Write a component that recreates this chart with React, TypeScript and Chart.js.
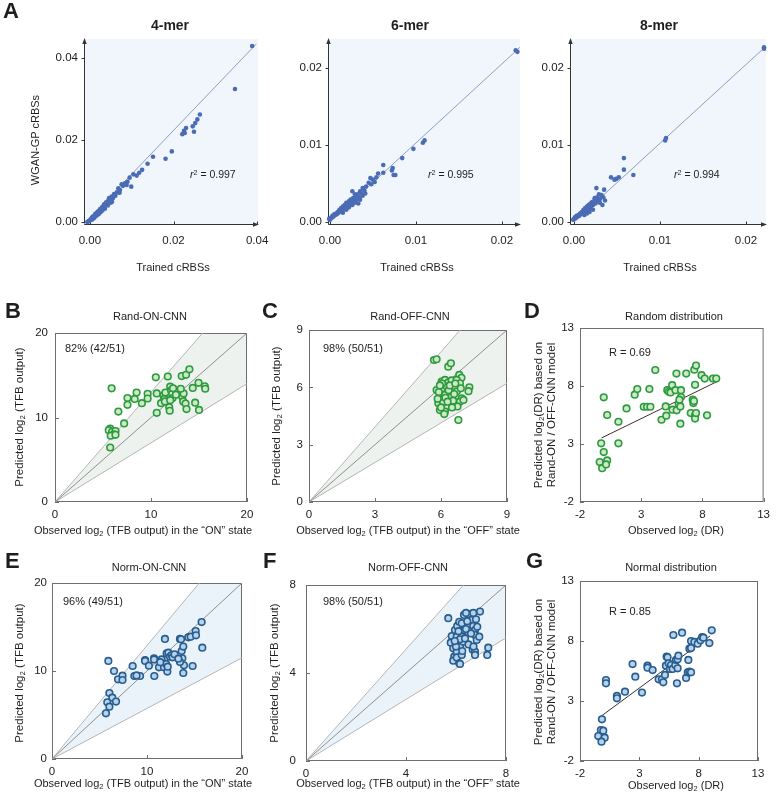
import React, { useEffect, useRef } from "react";
import { Chart, registerables } from "chart.js";
Chart.register(...registerables);

const W = 776;
const H = 799;
const FONT = '"Liberation Sans", Arial, Helvetica, sans-serif';

// ---------------- data ----------------
const mer4Points: [number, number][] = [
  [0.0388,0.0429],[0.0347,0.0324],[0.0263,0.0262],[0.0257,0.0250],[0.0252,0.0241],[0.0246,0.0233],[0.0249,0.0220],[0.0230,0.0229],[0.0225,0.0222],[0.0221,0.0214],[0.0227,0.0217],[0.0196,0.0172],[0.0181,0.0154],[0.0151,0.0159],[0.0138,0.0142],[0.0125,0.0127],[0.0118,0.0120],[0.0112,0.0113],[0.0104,0.0116],[0.0099,0.0086],[0.0095,0.0108],[0.0090,0.0098],[0.0084,0.0094],[0.0079,0.0088],[0.0076,0.0092],[0.0072,0.0078],[0.0068,0.0082],[0.0065,0.0072],[0.0061,0.0064],[0.0058,0.0068],[0.0055,0.0058],[0.0052,0.0062],[0.0049,0.0055],[0.0047,0.0050],[0.0044,0.0052],[0.0042,0.0046],[0.0040,0.0044],[0.0037,0.0041],[0.0035,0.0038],[0.0033,0.0040],[0.0031,0.0034],[0.0029,0.0036],[0.0027,0.0030],[0.0025,0.0028],[0.0024,0.0031],[0.0022,0.0024],[0.0020,0.0026],[0.0018,0.0021],[0.0017,0.0023],[0.0015,0.0018],[0.0013,0.0020],[0.0012,0.0015],[0.0010,0.0013],[0.0008,0.0014],[0.0007,0.0010],[0.0005,0.0011],[0.0004,0.0008],[0.0002,0.0006],[0.0001,0.0004],[-0.0002,0.0003],[-0.0004,0.0001],[-0.0006,0.0000],[0.0053,0.0049],[0.0046,0.0058],[0.0039,0.0048],[0.0071,0.0071],[0.0088,0.0090],[0.0036,0.0032],[0.0030,0.0028],[0.0026,0.0024],[0.0021,0.0019],[0.0016,0.0015],[0.0011,0.0010],[0.0006,0.0006],[0.0043,0.0040],[0.0050,0.0047],[0.0034,0.0043],[0.0028,0.0033],[0.0019,0.0022],[0.0009,0.0011],
];
const mer6Points: [number, number][] = [
  [0.0216,0.0223],[0.0218,0.0221],[0.0110,0.0106],[0.0108,0.0103],[0.0097,0.0095],[0.0084,0.0083],[0.0073,0.0070],[0.0072,0.0067],[0.0074,0.0061],[0.0076,0.0061],[0.0062,0.0074],[0.0062,0.0064],[0.0056,0.0063],[0.0054,0.0058],[0.0052,0.0052],[0.0050,0.0055],[0.0047,0.0057],[0.0048,0.0049],[0.0045,0.0051],[0.0042,0.0046],[0.0040,0.0041],[0.0038,0.0044],[0.0036,0.0037],[0.0035,0.0040],[0.0034,0.0032],[0.0032,0.0036],[0.0031,0.0029],[0.0030,0.0033],[0.0029,0.0036],[0.0028,0.0027],[0.0027,0.0031],[0.0026,0.0040],[0.0025,0.0025],[0.0024,0.0029],[0.0023,0.0022],[0.0022,0.0027],[0.0021,0.0024],[0.0020,0.0020],[0.0019,0.0025],[0.0018,0.0019],[0.0017,0.0022],[0.0016,0.0017],[0.0015,0.0020],[0.0014,0.0015],[0.0013,0.0018],[0.0012,0.0014],[0.0011,0.0016],[0.0010,0.0012],[0.0009,0.0013],[0.0008,0.0010],[0.0007,0.0011],[0.0006,0.0009],[0.0005,0.0010],[0.0004,0.0007],[0.0003,0.0008],[0.0002,0.0006],[0.0001,0.0005],[0.0000,0.0003],[-0.0001,0.0004],[0.0033,0.0024],[0.0038,0.0034],[0.0041,0.0037],[0.0029,0.0025],[0.0026,0.0022],[0.0019,0.0016],[0.0015,0.0012],[0.0022,0.0019],[0.0035,0.0029],
];
const mer8Points: [number, number][] = [
  [0.0221,0.0227],[0.0221,0.0225],[0.0107,0.0109],[0.0106,0.0106],[0.0058,0.0083],[0.0058,0.0068],[0.0069,0.0061],[0.0052,0.0058],[0.0049,0.0056],[0.0047,0.0055],[0.0043,0.0058],[0.0035,0.0042],[0.0026,0.0044],[0.0034,0.0032],[0.0032,0.0035],[0.0030,0.0030],[0.0029,0.0036],[0.0028,0.0027],[0.0027,0.0032],[0.0026,0.0029],[0.0025,0.0024],[0.0024,0.0031],[0.0023,0.0027],[0.0022,0.0022],[0.0021,0.0026],[0.0020,0.0020],[0.0019,0.0024],[0.0018,0.0018],[0.0017,0.0022],[0.0016,0.0017],[0.0015,0.0020],[0.0014,0.0015],[0.0013,0.0018],[0.0012,0.0014],[0.0011,0.0016],[0.0010,0.0012],[0.0009,0.0013],[0.0008,0.0010],[0.0007,0.0011],[0.0006,0.0008],[0.0005,0.0009],[0.0004,0.0007],[0.0003,0.0008],[0.0002,0.0005],[0.0001,0.0006],[0.0000,0.0004],[-0.0001,0.0003],[0.0030,0.0025],[0.0033,0.0022],[0.0022,0.0016],[0.0018,0.0013],[0.0015,0.0011],[0.0036,0.0028],[0.0012,0.0009],
];
const mer4Fit: [number, number][] = [[-0.0014, -0.0005], [0.0398, 0.0434]];
const mer6Fit: [number, number][] = [[0, 0], [0.0221, 0.0227]];
const mer8Fit: [number, number][] = [[0, 0], [0.0222, 0.0227]];

const randOnPoints: [number, number][] = [
  [5.9,13.45],[5.75,8.7],[5.6,8.5],[5.95,8.3],[6.3,8.4],[6.15,8.0],[5.8,7.85],[6.3,7.95],[5.75,6.45],[6.6,10.7],[7.2,9.3],[7.55,12.3],[7.55,11.5],[8.3,12.2],[8.5,12.95],[9.05,11.7],[9.65,12.8],[9.65,12.25],[10.5,14.75],[10.6,12.85],[10.6,10.55],[11.05,11.7],[11.3,12.6],[11.4,12.2],[11.5,12.95],[11.45,11.9],[11.75,14.85],[12.0,13.65],[11.9,11.2],[11.95,10.8],[12.1,13.2],[12.2,12.8],[12.25,12.3],[12.3,13.45],[12.0,12.05],[13.2,14.9],[13.65,15.05],[13.25,12.45],[13.4,12.85],[13.35,11.9],[13.6,11.65],[13.7,11.0],[14.0,15.7],[14.35,13.5],[14.6,11.75],[14.95,14.1],[15.0,10.9],[15.6,13.7],[15.65,13.4],[12.6,12.7],[13.1,13.4],
];
const randOffPoints: [number, number][] = [
  [5.68,7.43],[5.8,7.47],[6.33,7.08],[6.45,7.26],[6.83,6.65],[6.93,6.5],[7.29,6.0],[7.25,5.8],[6.79,4.29],
  [6.03,6.3],[6.18,6.39],[6.33,6.25],[6.48,6.36],[6.71,6.39],[6.08,5.95],[5.8,5.86],[6.26,6.04],[6.64,6.04],[6.86,6.21],[5.95,5.51],[6.18,5.6],[6.48,5.51],[6.71,5.78],[6.94,5.43],[6.03,5.34],[6.41,5.17],[6.71,5.17],[5.88,5.17],[6.26,5.0],[6.56,5.0],[5.95,4.81],[6.18,4.73],[6.86,5.25],[7.02,5.34],
  [5.9,5.75],[6.1,5.2],[6.0,4.95],[6.2,5.45],[6.35,5.85],[6.55,5.3],[6.6,5.65],[6.4,6.1],[6.75,5.0],[6.9,5.95],[5.85,5.4],[6.15,4.6],[6.05,6.2],[6.5,4.95],[6.3,5.25],[6.65,6.2],[5.95,6.1],
];
const randDrPoints: [number, number][] = [
  [-0.06,7.02],[0.22,5.5],[-0.27,3.06],[-0.06,2.3],[-0.39,1.44],[0.22,1.58],[-0.19,0.92],[0.13,1.24],[1.14,4.92],[1.14,3.06],[1.8,6.07],[2.47,7.25],[2.68,7.74],[3.21,6.21],[3.48,6.21],[3.67,7.74],[3.75,6.21],[4.15,9.38],[4.66,5.09],[5.0,6.24],[5.05,5.44],[5.13,7.64],[5.26,7.5],[5.4,7.45],[5.53,8.07],[5.56,5.96],[5.8,7.64],[5.9,5.9],[5.88,9.07],[6.06,6.47],[6.2,6.24],[6.25,7.05],[6.25,7.64],[6.2,4.75],[6.68,9.07],[7.21,6.82],[7.26,6.53],[7.34,9.41],[7.48,9.76],[7.4,8.1],[7.05,5.67],[7.4,5.47],[7.4,5.19],[7.48,5.67],[7.93,8.93],[8.19,8.64],[8.38,5.47],[8.86,8.64],[9.13,8.64],[6.12,6.82],[7.31,6.7],
];
const randDrFit: [number, number][] = [[-0.24, 3.52], [9.12, 8.34]];

const normOnPoints: [number, number][] = [
  [5.93,11.14],[6.53,10.0],[6.04,7.5],[6.35,6.97],[6.74,6.52],[5.82,6.45],[6.04,5.95],[5.68,5.19],[6.95,9.05],[7.42,9.47],[7.42,8.98],[8.49,10.57],[8.67,9.43],[9.27,9.43],[9.8,11.25],[9.8,11.14],[10.74,11.44],[10.74,11.32],[10.77,9.43],[11.26,10.42],[11.54,11.32],[11.79,10.42],[11.89,13.64],[12.0,10.8],[12.07,12.0],[12.14,9.93],[12.18,10.49],[12.25,12.08],[12.42,11.63],[12.6,11.82],[12.7,11.55],[13.47,13.64],[13.58,13.6],[13.65,12.27],[13.72,11.44],[13.82,12.77],[13.82,9.77],[13.89,10.64],[13.47,11.02],[14.35,13.83],[14.6,13.9],[14.8,10.57],[15.12,14.54],[15.16,14.05],[15.75,15.56],[15.82,12.65],[11.4,11.0],[12.9,11.9],[13.3,11.4],[8.9,9.5],[10.2,10.6],
];
const normOffPoints: [number, number][] = [
  [5.69,6.49],[5.83,5.68],[5.79,5.38],[5.89,5.12],[5.93,4.74],[5.89,4.56],[6.03,4.97],[6.03,4.71],[6.13,4.44],[6.16,4.41],[6.23,4.82],[6.16,5.23],[6.03,5.65],[5.96,5.95],[6.05,6.14],[6.13,6.33],[6.23,6.26],[6.32,6.64],[6.49,6.68],[6.49,5.83],[6.32,5.95],[6.23,5.65],[6.29,5.42],[6.16,5.53],[6.36,5.57],[6.56,5.95],[6.63,6.41],[6.69,6.14],[6.76,5.95],[6.76,5.73],[6.83,5.5],[6.8,6.44],[6.96,6.79],[6.93,5.65],[6.67,5.06],[6.76,4.97],[6.76,4.82],[7.29,5.15],[7.25,4.82],[6.4,6.73],[6.69,6.73],
  [6.1,5.9],[6.4,6.0],[6.5,5.3],[6.0,5.2],[6.25,5.0],[6.6,5.8],[6.85,6.1],[6.45,6.35],[5.95,5.45],[6.7,5.2],
];
const normDrPoints: [number, number][] = [
  [-0.15,1.47],[-0.24,0.58],[-0.04,0.53],[-0.46,0.08],[0.08,-0.06],[-0.19,-0.39],[0.19,4.75],[0.19,4.47],[1.11,3.42],[1.11,3.22],[1.79,3.78],[2.43,6.08],[2.66,5.03],[3.22,3.7],[3.69,5.94],[3.69,5.78],[4.12,5.58],[4.63,4.81],[4.91,4.81],[5.02,4.56],[5.16,5.17],[5.24,5.94],[5.3,6.69],[5.38,6.64],[5.47,6.14],[5.58,5.67],[5.67,6.0],[5.81,5.67],[5.87,8.5],[6.03,6.0],[6.09,6.42],[6.17,4.47],[6.23,6.47],[6.29,6.78],[6.23,5.72],[6.6,8.69],[6.94,4.92],[7.13,6.42],[7.08,5.39],[7.22,5.44],[7.36,5.39],[7.22,7.36],[7.36,7.42],[7.36,8.0],[7.64,7.92],[7.92,7.78],[8.15,8.06],[8.29,8.33],[8.4,8.28],[8.9,7.83],[9.1,8.89],
];
const normDrFit: [number, number][] = [[-0.31, 1.67], [8.96, 8.42]];

const ticksMer4 = [0, 0.02, 0.04];
const ticksMer68 = [0, 0.01, 0.02];
const ticksOn = [0, 10, 20];
const ticksRandOff = [0, 3, 6, 9];
const ticksNormOff = [0, 4, 8];
const ticksDr = [-2, 3, 8, 13];

// ---------------- panel specs ----------------
type Line = { pts: [number, number][]; color: string; width: number };
type Spec = {
  box: [number, number, number, number];
  xr: [number, number];
  yr: [number, number];
  xt: number[];
  yt: number[];
  fmt: (v: number) => string;
  xPad: number;
  yPad: number;
  points: [number, number][];
  radius: number;
  fill: string;
  stroke: string;
  bw: number;
  lines: Line[];
  band?: { lo: number; hi: number; color: string };
  frame: "box" | "arrows";
  bg?: string;
};

const f2 = (v: number) => v.toFixed(2);
const f0 = (v: number) => String(v);

const GREEN = { radius: 3.3, fill: "#cdeac8", stroke: "#2e9a3e", bw: 1.6 };
const BLUE = { radius: 3.3, fill: "#b7d3ec", stroke: "#285d8f", bw: 1.6 };
const MER = { radius: 2.3, fill: "#4a6cb5", stroke: "#4a6cb5", bw: 0 };
const FITA = "#8c9fc4";
const GUIDE = "#b5b5b5";
const DIAG = "#8f8f8f";

function guideLines(max: number, lo: number, hi: number): Line[] {
  return [
    { pts: [[0, 0], [max, max]], color: DIAG, width: 1 },
    { pts: [[0, 0], [max / hi, max]], color: GUIDE, width: 1 },
    { pts: [[0, 0], [max, max * lo]], color: GUIDE, width: 1 },
  ];
}

const specs: Spec[] = [
  { box: [84, 39, 258, 224], xr: [-0.0014, 0.0402], yr: [-0.0005, 0.0446], xt: ticksMer4, yt: ticksMer4, fmt: f2, xPad: 10, yPad: 6,
    points: mer4Points, ...MER, lines: [{ pts: mer4Fit, color: FITA, width: 1 }], frame: "arrows", bg: "#f0f6fc" },
  { box: [328, 39, 520, 224], xr: [-0.00023, 0.0221], yr: [-0.00026, 0.02377], xt: ticksMer68, yt: ticksMer68, fmt: f2, xPad: 10, yPad: 6,
    points: mer6Points, ...MER, lines: [{ pts: mer6Fit, color: FITA, width: 1 }], frame: "arrows", bg: "#f0f6fc" },
  { box: [570, 39, 766, 224], xr: [-0.00047, 0.02233], yr: [-0.00026, 0.02377], xt: ticksMer68, yt: ticksMer68, fmt: f2, xPad: 10, yPad: 6,
    points: mer8Points, ...MER, lines: [{ pts: mer8Fit, color: FITA, width: 1 }], frame: "arrows", bg: "#f0f6fc" },
  { box: [55, 333, 247, 502], xr: [0, 20], yr: [0, 20], xt: ticksOn, yt: ticksOn, fmt: f0, xPad: 6, yPad: 7,
    points: randOnPoints, ...GREEN, lines: guideLines(20, 0.7, 1.3), band: { lo: 0.7, hi: 1.3, color: "#edf2ee" }, frame: "box" },
  { box: [309, 330, 507, 502], xr: [0, 9], yr: [0, 9], xt: ticksRandOff, yt: ticksRandOff, fmt: f0, xPad: 6, yPad: 6,
    points: randOffPoints, ...GREEN, lines: guideLines(9, 0.69, 1.31), band: { lo: 0.69, hi: 1.31, color: "#edf2ee" }, frame: "box" },
  { box: [580, 328, 768, 502], xr: [-2, 13], yr: [-2, 13], xt: ticksDr, yt: ticksDr, fmt: f0, xPad: 6, yPad: 6,
    points: randDrPoints, ...GREEN, lines: [{ pts: randDrFit, color: "#4a2b2b", width: 1 }], frame: "box" },
  { box: [52, 583, 242, 759], xr: [0, 20], yr: [0, 20], xt: ticksOn, yt: ticksOn, fmt: f0, xPad: 6, yPad: 5,
    points: normOnPoints, ...BLUE, lines: guideLines(20, 0.575, 1.29), band: { lo: 0.575, hi: 1.29, color: "#eaf3fa" }, frame: "box" },
  { box: [306, 585, 506, 761], xr: [0, 8], yr: [0, 8], xt: ticksNormOff, yt: ticksNormOff, fmt: f0, xPad: 6, yPad: 10,
    points: normOffPoints, ...BLUE, lines: guideLines(8, 0.7, 1.27), band: { lo: 0.7, hi: 1.27, color: "#eaf3fa" }, frame: "box" },
  { box: [580, 581, 758, 761], xr: [-2, 13], yr: [-2, 13], xt: ticksDr, yt: ticksDr, fmt: f0, xPad: 6, yPad: 6,
    points: normDrPoints, ...BLUE, lines: [{ pts: normDrFit, color: "#333333", width: 1 }], frame: "box" },
];

const YW = 40;
const XH = 25;

function framePlugin(spec: Spec) {
  return {
    id: "frame",
    beforeDatasetsDraw(chart: any) {
      const { ctx, chartArea: a, scales } = chart;
      const sx = scales.x, sy = scales.y;
      ctx.save();
      if (spec.bg) {
        ctx.fillStyle = spec.bg;
        ctx.fillRect(a.left, a.top, a.right - a.left, a.bottom - a.top);
      }
      if (spec.band) {
        const m = spec.xr[1];
        const { lo, hi } = spec.band;
        const poly: [number, number][] = [[0, 0], [m, m * lo], [m, m], [m / hi, m]];
        ctx.fillStyle = spec.band.color;
        ctx.beginPath();
        poly.forEach(([x, y], i) => {
          const px = sx.getPixelForValue(x), py = sy.getPixelForValue(y);
          if (i === 0) ctx.moveTo(px, py); else ctx.lineTo(px, py);
        });
        ctx.closePath();
        ctx.fill();
      }
      ctx.strokeStyle = spec.frame === "box" ? "#6e6e6e" : "#333";
      ctx.lineWidth = 1;
      if (spec.frame === "box") {
        ctx.strokeRect(a.left + 0.5, a.top + 0.5, a.right - a.left - 1, a.bottom - a.top - 1);
        ctx.beginPath();
        spec.xt.forEach((v) => {
          const px = Math.round(sx.getPixelForValue(v)) + 0.5;
          ctx.moveTo(px, a.bottom); ctx.lineTo(px, a.bottom - 4);
        });
        spec.yt.forEach((v) => {
          const py = Math.round(sy.getPixelForValue(v)) + 0.5;
          ctx.moveTo(a.left, py); ctx.lineTo(a.left + 4, py);
        });
        ctx.stroke();
      } else {
        const L = a.left + 0.5, B = a.bottom + 0.5;
        ctx.beginPath();
        ctx.moveTo(L, B); ctx.lineTo(L, a.top + 2);
        ctx.moveTo(L, B); ctx.lineTo(a.right - 2, B);
        spec.xt.forEach((v) => {
          const px = Math.round(sx.getPixelForValue(v)) + 0.5;
          ctx.moveTo(px, B); ctx.lineTo(px, B - 3);
        });
        spec.yt.forEach((v) => {
          const py = Math.round(sy.getPixelForValue(v)) + 0.5;
          ctx.moveTo(L, py); ctx.lineTo(L - 3, py);
        });
        ctx.stroke();
        ctx.fillStyle = "#333";
        ctx.beginPath();
        ctx.moveTo(L, a.top - 1); ctx.lineTo(L - 2.2, a.top + 5); ctx.lineTo(L + 2.2, a.top + 5); ctx.closePath();
        ctx.moveTo(a.right + 1, B); ctx.lineTo(a.right - 5, B - 2.2); ctx.lineTo(a.right - 5, B + 2.2); ctx.closePath();
        ctx.fill();
      }
      ctx.restore();
    },
  };
}

function PanelChart({ spec }: { spec: Spec }) {
  const ref = useRef<HTMLCanvasElement | null>(null);
  useEffect(() => {
    if (!ref.current) return;
    const [l, t, r, b] = spec.box;
    const tickFont = { family: FONT, size: 11.5 };
    const chart = new Chart(ref.current, {
      type: "scatter",
      data: {
        datasets: [
          {
            data: spec.points.map(([x, y]) => ({ x, y })),
            pointRadius: spec.radius,
            pointBackgroundColor: spec.fill,
            pointBorderColor: spec.stroke,
            pointBorderWidth: spec.bw,
            clip: false as any,
            order: 0,
          } as any,
          ...spec.lines.map((ln) => ({
            data: ln.pts.map(([x, y]) => ({ x, y })),
            showLine: true,
            pointRadius: 0,
            borderColor: ln.color,
            borderWidth: ln.width,
            fill: false,
            order: 1,
          })),
        ],
      },
      options: {
        animation: false,
        responsive: false,
        devicePixelRatio: 1,
        events: [],
        layout: { padding: { left: l - YW, top: t, right: W - r, bottom: H - b - XH } },
        plugins: { legend: { display: false }, tooltip: { enabled: false }, title: { display: false } },
        scales: {
          x: {
            type: "linear",
            min: spec.xr[0],
            max: spec.xr[1],
            afterBuildTicks: (s: any) => { s.ticks = spec.xt.map((v) => ({ value: v })); },
            afterFit: (s: any) => { s.height = XH; },
            ticks: { callback: (v: any) => spec.fmt(Number(v)), font: tickFont, color: "#222", padding: spec.xPad, maxRotation: 0, autoSkip: false },
            grid: { display: false, drawTicks: false },
            border: { display: false },
          },
          y: {
            type: "linear",
            min: spec.yr[0],
            max: spec.yr[1],
            afterBuildTicks: (s: any) => { s.ticks = spec.yt.map((v) => ({ value: v })); },
            afterFit: (s: any) => { s.width = YW; },
            ticks: { callback: (v: any) => spec.fmt(Number(v)), font: tickFont, color: "#222", padding: spec.yPad, autoSkip: false },
            grid: { display: false, drawTicks: false },
            border: { display: false },
          },
        },
      } as any,
      plugins: [framePlugin(spec)],
    });
    return () => chart.destroy();
  }, [spec]);
  return <canvas ref={ref} width={W} height={H} style={{ position: "absolute", left: 0, top: 0, width: W, height: H }} />;
}

type TxtProps = { x: number; y: number; size?: number; bold?: boolean; anchor?: "center" | "left"; rotate?: boolean; children: React.ReactNode; lh?: number };
function Txt({ x, y, size = 11, bold = false, anchor = "center", rotate = false, children, lh = 1 }: TxtProps) {
  let transform = anchor === "center" ? "translate(-50%,-50%)" : "translate(0,-50%)";
  if (rotate) transform = "translate(-50%,-50%) rotate(-90deg)";
  return (
    <div style={{ position: "absolute", left: x, top: y, transform, fontFamily: FONT, fontSize: size, fontWeight: bold ? 700 : 400, whiteSpace: "nowrap", lineHeight: lh, color: "#1e1e1e", textAlign: "center" }}>
      {children}
    </div>
  );
}

const Sub = () => <span style={{ fontSize: "0.68em", position: "relative", top: "0.3em" }}>2</span>;
const Log2 = () => <>log<Sub /></>;
const R2 = ({ v }: { v: string }) => (
  <><i>r</i><span style={{ fontSize: "0.68em", position: "relative", top: "-0.45em" }}>2</span> = {v}</>
);

const letters: [string, number, number][] = [["A", 3, 11], ["B", 5, 311], ["C", 262, 311], ["D", 524, 311], ["E", 5, 561], ["F", 263, 561], ["G", 526, 561]];
const merTitles: [string, number][] = [["4-mer", 170], ["6-mer", 410], ["8-mer", 659]];
const merXTitleX = [173, 417, 660];
const r2Labels: [string, number][] = [["0.997", 190], ["0.995", 428], ["0.994", 674]];
const lowerTitles: [string, number, number][] = [
  ["Rand-ON-CNN", 150, 316], ["Rand-OFF-CNN", 410, 316], ["Random distribution", 674, 316],
  ["Norm-ON-CNN", 149, 567], ["Norm-OFF-CNN", 408, 567], ["Normal distribution", 671, 567],
];
const pctLabels: [string, number, number][] = [["82% (42/51)", 65, 348], ["98% (50/51)", 323, 348], ["96% (49/51)", 63, 601], ["98% (50/51)", 323, 601]];
const rLabels: [string, number, number][] = [["R = 0.69", 609, 352], ["R = 0.85", 609, 611]];

export default function App() {
  return (
    <div style={{ position: "absolute", left: 0, top: 0, width: W, height: H, background: "#fff", overflow: "hidden" }}>
      {specs.map((s, i) => <PanelChart key={i} spec={s} />)}
      {letters.map(([t, x, y]) => <Txt key={t} x={x} y={y} size={22} bold anchor="left">{t}</Txt>)}
      {merTitles.map(([t, x]) => <Txt key={t} x={x} y={25} size={14} bold>{t}</Txt>)}
      {merXTitleX.map((x, i) => <Txt key={"tx" + i} x={x} y={267} size={11}>Trained cRBSs</Txt>)}
      <Txt x={35} y={140} size={11} rotate>WGAN-GP cRBSs</Txt>
      {r2Labels.map(([v, x]) => <Txt key={v} x={x} y={175} size={10.5} anchor="left"><R2 v={v} /></Txt>)}
      {lowerTitles.map(([t, x, y]) => <Txt key={t} x={x} y={y} size={11}>{t}</Txt>)}
      {pctLabels.map(([t, x, y], i) => <Txt key={"p" + i} x={x} y={y} size={11} anchor="left">{t}</Txt>)}
      {rLabels.map(([t, x, y]) => <Txt key={t} x={x} y={y} size={11} anchor="left">{t}</Txt>)}

      <Txt x={143} y={530} size={11}>Observed <Log2 /> (TFB output) in the {"\u201CON\u201D"} state</Txt>
      <Txt x={408} y={530} size={11}>Observed <Log2 /> (TFB output) in the {"\u201COFF\u201D"} state</Txt>
      <Txt x={676} y={530} size={11}>Observed <Log2 /> (DR)</Txt>
      <Txt x={143} y={783} size={11}>Observed <Log2 /> (TFB output) in the {"\u201CON\u201D"} state</Txt>
      <Txt x={408} y={783} size={11}>Observed <Log2 /> (TFB output) in the {"\u201COFF\u201D"} state</Txt>
      <Txt x={676} y={785} size={11}>Observed <Log2 /> (DR)</Txt>

      <Txt x={20} y={417} size={11.5} rotate>Predicted <Log2 /> (TFB output)</Txt>
      <Txt x={277} y={416} size={11.5} rotate>Predicted <Log2 /> (TFB output)</Txt>
      <Txt x={20} y={673} size={11.5} rotate>Predicted <Log2 /> (TFB output)</Txt>
      <Txt x={275} y={673} size={11.5} rotate>Predicted <Log2 /> (TFB output)</Txt>
      <Txt x={545} y={415} size={11.5} rotate lh={1.1}>Predicted <Log2 />(DR) based on<br />Rand-ON / OFF-CNN model</Txt>
      <Txt x={545} y={672} size={11.5} rotate lh={1.1}>Predicted <Log2 />(DR) based on<br />Rand-ON / OFF-CNN model</Txt>
    </div>
  );
}
